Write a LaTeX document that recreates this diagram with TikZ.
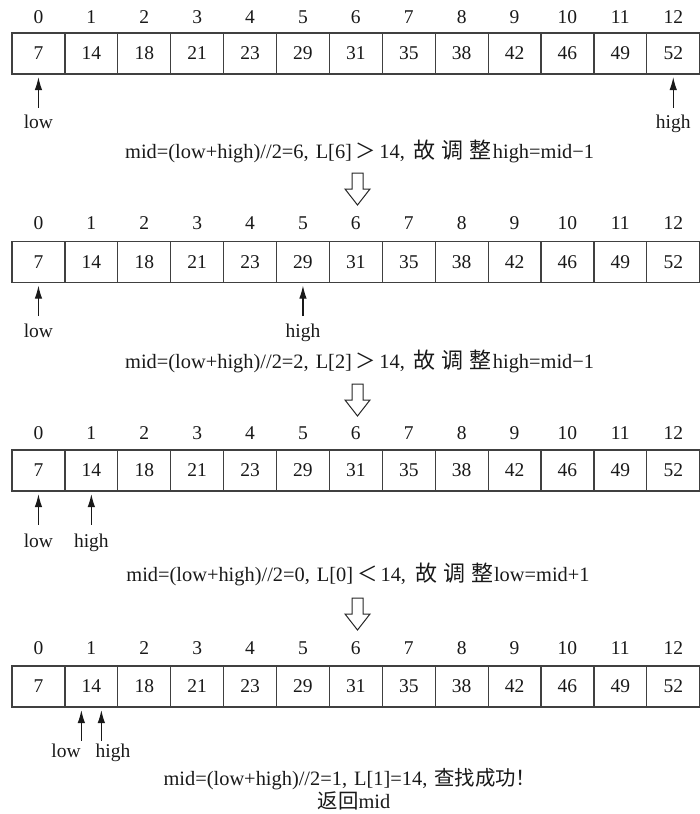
\documentclass[tikz,border=0pt]{standalone}
\usepackage{fontspec}
\setmainfont{Liberation Serif}
\newfontfamily\cjk{Noto Sans CJK SC}
\usetikzlibrary{arrows.meta}

% Chinese text, plain and with wider spacing between the characters
\newcommand\zh[1]{{\cjk #1}}
\newcommand\zhw[1]{{\cjk\fontsize{22}{22}\selectfont #1}}
\newcommand\gap{\hspace{6pt}}

\tikzset{
  cell/.style={draw=black!75, line width=1.2pt, minimum width=52.9pt,
    minimum height=41pt, inner sep=0pt, text=black!90,
    font=\fontsize{19.5}{20}\selectfont},
  idx/.style={inner sep=0pt, anchor=base, text=black!90,
    font=\fontsize{19.5}{20}\selectfont},
  ptrlabel/.style={inner sep=0pt, anchor=base, text=black!90,
    font=\fontsize{19.5}{20}\selectfont},
  ptr/.style={draw=black!90, line width=1.1pt, -{Latex[length=13pt,width=7.5pt]}},
  note/.style={inner sep=0pt, anchor=base west, text=black!90,
    font=\fontsize{20.4}{21}\selectfont},
  hollow/.style={draw=black!85, line width=1pt, fill=white, line join=miter}
}

% hollow down arrow with its top centre at the given coordinate
\newcommand\downarrowat[1]{%
  \draw[hollow] (#1) ++(-5.5,0) -- ++(11,0) -- ++(0,16) -- ++(7,0)
    -- ++(-12.5,16) -- ++(-12.5,-16) -- ++(7,0) -- cycle;}

\begin{document}
\begin{tikzpicture}[x=1pt,y=-1pt]
\useasboundingbox (0,0) rectangle (700,814);

% four snapshots of the list: row / cell centre y / index baseline y
\foreach \r/\cy/\ly in {1/53.5/23, 2/262/229, 3/470.5/439, 4/686.5/654} {
  \foreach \v [count=\i from 0] in {7,14,18,21,23,29,31,35,38,42,46,49,52} {
    \node[cell] (r\r-\i) at ({12+52.9*(\i+0.5)},\cy) {\v};
    \node[idx]  (i\r-\i) at ({12+52.9*(\i+0.5)},\ly) {\i};
  }
}

% pointers, step 1
\node[ptrlabel] (low1)  at (r1-0 |- 0,128) {low};
\node[ptrlabel] (high1) at (r1-12 |- 0,128) {high};
\draw[ptr] ([yshift=-33pt]r1-0.south)  -- ([yshift=-2.5pt]r1-0.south);
\draw[ptr] ([yshift=-33pt]r1-12.south) -- ([yshift=-2.5pt]r1-12.south);
\node[note] (n1) at (125,158) {mid=(low+high)//2=6,\hspace{7pt}L[6]\hspace{4pt}\zh{＞}\hspace{3pt}14,\hspace{9pt}\zhw{故\gap 调\gap 整}\hspace{1pt}high=mid−1};
\coordinate (a1) at (357.5,173);
\downarrowat{a1}

% pointers, step 2
\node[ptrlabel] (low2)  at (r2-0 |- 0,337) {low};
\node[ptrlabel] (high2) at (r2-5 |- 0,337) {high};
\draw[ptr] ([yshift=-33pt]r2-0.south) -- ([yshift=-2.5pt]r2-0.south);
\draw[ptr] ([yshift=-33pt]r2-5.south) -- ([yshift=-2.5pt]r2-5.south);
\node[note] (n2) at (125,368) {mid=(low+high)//2=2,\hspace{7pt}L[2]\hspace{4pt}\zh{＞}\hspace{3pt}14,\hspace{9pt}\zhw{故\gap 调\gap 整}\hspace{1pt}high=mid−1};
\coordinate (a2) at (357.5,384);
\downarrowat{a2}

% pointers, step 3
\node[ptrlabel] (low3)  at (r3-0 |- 0,547) {low};
\node[ptrlabel] (high3) at (r3-1 |- 0,547) {high};
\draw[ptr] ([yshift=-33pt]r3-0.south) -- ([yshift=-2.5pt]r3-0.south);
\draw[ptr] ([yshift=-33pt]r3-1.south) -- ([yshift=-2.5pt]r3-1.south);
\node[note, anchor=base] (n3) at (358,581) {mid=(low+high)//2=0,\hspace{7pt}L[0]\hspace{4pt}\zh{＜}\hspace{3pt}14,\hspace{9pt}\zhw{故\gap 调\gap 整}\hspace{1pt}low=mid+1};
\coordinate (a3) at (357.5,598);
\downarrowat{a3}

% pointers, step 4: both on cell 1
\node[ptrlabel] (low4)  at (66,757)  {low};
\node[ptrlabel] (high4) at (113,757) {high};
\draw[ptr] ([xshift=-10pt,yshift=-33pt]r4-1.south) -- ([xshift=-10pt,yshift=-2.5pt]r4-1.south);
\draw[ptr] ([xshift=10pt,yshift=-33pt]r4-1.south)  -- ([xshift=10pt,yshift=-2.5pt]r4-1.south);
\node[note, anchor=base] (n4) at (350,785) {mid=(low+high)//2=1,\hspace{7pt}L[1]=14,\hspace{7pt}\zh{查找成功！}};
\node[note, anchor=base] (n5) at (354,808) {\zh{返回}mid};
\end{tikzpicture}
\end{document}
